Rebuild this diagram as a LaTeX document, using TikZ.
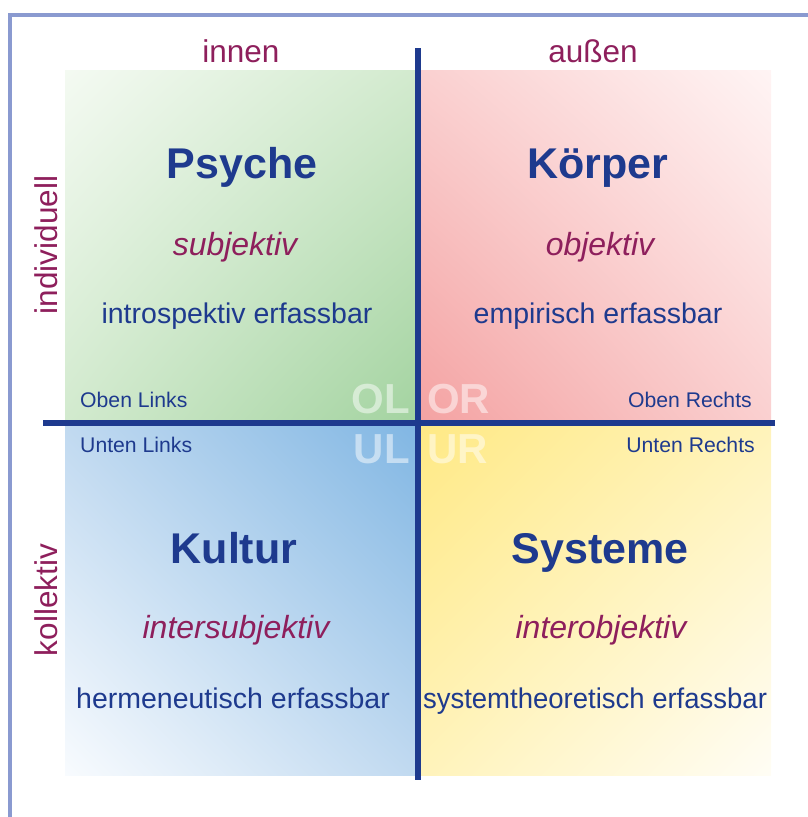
\documentclass[tikz,border=0pt]{standalone}
\usepackage{fontspec}
\setmainfont{Liberation Sans}
\usepackage{xcolor}
\usepackage{tikz}
\usetikzlibrary{positioning, calc, shadings}

\definecolor{navy}{HTML}{1E3A8E}
\definecolor{wine}{HTML}{8E1F5C}
\definecolor{frame}{HTML}{8A9AD0}
\definecolor{greenA}{HTML}{F4FAF2}
\definecolor{greenB}{HTML}{D2EACE}
\definecolor{greenC}{HTML}{A3D3A0}
\definecolor{redA}{HTML}{FFF4F4}
\definecolor{redB}{HTML}{FAD0D0}
\definecolor{redC}{HTML}{F4A2A2}
\definecolor{blueA}{HTML}{F8FBFE}
\definecolor{blueB}{HTML}{C0D9F0}
\definecolor{blueC}{HTML}{80B6E3}
\definecolor{yellowA}{HTML}{FFFDF5}
\definecolor{yellowB}{HTML}{FFF3BA}
\definecolor{yellowC}{HTML}{FFE984}

\begin{document}
\begin{tikzpicture}[
    x=1pt, y=-1pt,
    title/.style={anchor=base, text=navy, font=\fontsize{43}{50}\selectfont\bfseries},
    mode/.style={anchor=base, text=wine, font=\fontsize{32}{38}\selectfont\itshape},
    method/.style={anchor=base, text=navy, font=\fontsize{28.5}{34}\selectfont},
    corner/.style={text=navy, font=\fontsize{21.2}{25}\selectfont, inner sep=0pt},
    axis/.style={anchor=base, text=wine, font=\fontsize{31.5}{37}\selectfont},
    abbr/.style={text=white, text opacity=0.5, font=\fontsize{42}{48}\selectfont\bfseries, inner sep=0pt},
    divider/.style={draw=navy, line width=6pt}
]
\useasboundingbox (0,0) rectangle (808,817);
\draw[frame, line width=3.4pt] (10,817) -- (10,15) -- (808,15);

\shade[upper left=greenA, upper right=greenB, lower left=greenB, lower right=greenC] (65,70) rectangle (418,422);
\shade[upper left=redB, upper right=redA, lower left=redC, lower right=redB] (418,70) rectangle (771,422);
\shade[upper left=blueB, upper right=blueC, lower left=blueA, lower right=blueB] (65,422) rectangle (418,775);
\shade[upper left=yellowC, upper right=yellowB, lower left=yellowB, lower right=yellowA] (418,422) rectangle (771,775);

\node[axis] (innen) at (241,62) {innen};
\node[axis] (aussen) at (593,62) {außen};
\node[axis, rotate=90] (indiv) at (57,245) {individuell};
\node[axis, rotate=90] (koll) at (57,600) {kollektiv};

\node[title] (psyche) at (242,178) {Psyche};
\node[mode] (subj) at (235,255) {subjektiv};
\node[method] (intro) at (237,323) {introspektiv erfassbar};

\node[title] (koerper) at (598,178) {Körper};
\node[mode] (obj) at (600,255) {objektiv};
\node[method] (empir) at (598,323) {empirisch erfassbar};

\node[title] (kultur) at (234,563) {Kultur};
\node[mode] (intersubj) at (236,638) {intersubjektiv};
\node[method] (herm) at (233,708) {hermeneutisch erfassbar};

\node[title] (systeme) at (600,563) {Systeme};
\node[mode] (interobj) at (601,638) {interobjektiv};
\node[method, xscale=0.965] (systh) at (595,708) {systemtheoretisch erfassbar};

\node[corner, anchor=base west] (obenl) at (80,407) {Oben Links};
\node[corner, anchor=base west] (untenl) at (80,452) {Unten Links};
\node[corner, anchor=base east] (obenr) at (752,407) {Oben Rechts};
\node[corner, anchor=base east] (untenr) at (755,452) {Unten Rechts};

\node[abbr, anchor=base east] (ol) at (410,413) {OL};
\node[abbr, anchor=base west] (or) at (427,413) {OR};
\node[abbr, anchor=base east] (ul) at (410,463) {UL};
\node[abbr, anchor=base west] (ur) at (427,463) {UR};

\draw[divider] (418,48) -- (418,780);
\draw[divider] (43,422.5) -- (775,422.5);
\end{tikzpicture}
\end{document}
